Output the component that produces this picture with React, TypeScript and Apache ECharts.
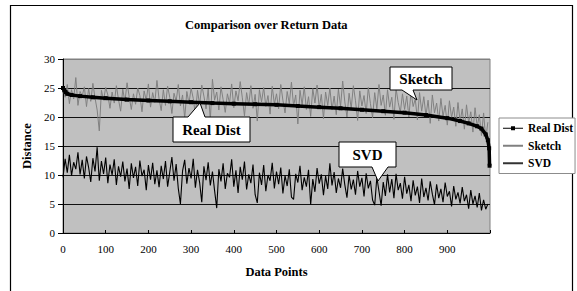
import React, { useEffect, useRef } from "react";
import * as echarts from "echarts";

const STEP = 5;
const categoriesMax = 1000;

const realX = [0, 3, 6, 10, 20, 40, 70, 100, 150, 200, 250, 300, 350, 400, 450, 500, 550, 600, 650, 700, 750, 800, 850, 900, 930, 950, 970, 980, 990, 995, 998, 999];
const realY = [25.0, 24.6, 24.3, 24.0, 23.8, 23.6, 23.4, 23.25, 23.0, 22.85, 22.7, 22.55, 22.4, 22.3, 22.2, 22.1, 21.9, 21.7, 21.5, 21.25, 21.0, 20.75, 20.35, 19.8, 19.3, 18.9, 18.4, 18.0, 17.0, 16.0, 14.6, 11.6];

const sketchValues = [
  24.9, 23.4, 25.6, 22.3, 24.7, 23.1, 26.8, 22.0, 24.4, 23.6, 25.2, 21.8, 24.9, 22.7, 25.8, 23.3, 21.2, 17.6, 24.6, 22.9,
  25.1, 23.8, 21.5, 24.3, 22.4, 25.4, 23.0, 21.0, 24.8, 22.6, 25.9, 23.5, 21.3, 24.0, 22.2, 25.0, 23.7, 20.9, 24.5, 22.8,
  25.7, 21.7, 24.2, 22.5, 26.3, 23.1, 21.1, 24.7, 22.0, 25.3, 23.4, 20.6, 24.1, 22.7, 25.6, 21.9, 23.8, 19.8, 24.4, 22.3,
  25.0, 23.2, 20.4, 24.6, 22.1, 25.5, 23.6, 21.4, 24.8, 19.5, 26.5, 22.9, 24.3, 21.2, 25.2, 23.0, 20.8, 24.0, 22.4, 25.7,
  21.6, 24.5, 22.8, 26.1, 23.3, 20.2, 24.2, 22.0, 25.4, 21.5, 23.9, 19.3, 24.7, 22.6, 25.1, 21.8, 23.7, 20.5, 25.3, 22.2,
  24.0, 21.4, 25.6, 22.9, 20.7, 24.4, 22.3, 26.0, 21.9, 23.8, 18.8, 24.6, 22.1, 25.2, 21.3, 23.5, 20.1, 24.9, 22.4, 25.5,
  21.6, 23.9, 19.7, 24.3, 22.0, 25.0, 21.2, 23.6, 20.4, 24.8, 21.8, 26.2, 22.6, 20.0, 24.1, 21.5, 25.4, 22.8, 19.4, 24.5,
  21.9, 23.7, 20.6, 25.1, 22.3, 19.9, 24.2, 21.4, 25.6, 22.0, 23.8, 20.3, 24.7, 21.7, 23.4, 19.6, 24.9, 22.5, 20.8, 24.0,
  21.3, 23.6, 20.0, 24.4, 21.8, 23.1, 19.5, 24.2, 21.0, 23.5, 20.2, 22.9, 18.9, 23.8, 20.7, 22.4, 19.3, 23.2, 20.1, 22.0,
  18.6, 22.8, 19.9, 21.7, 18.4, 22.5, 19.2, 21.4, 17.9, 22.1, 19.0, 20.9, 17.4, 21.6, 18.3, 20.4, 16.8, 20.7, 16.2, 19.1,
];

const svdValues = [
  9.6, 12.8, 10.4, 13.5, 9.9, 12.2, 11.0, 13.9, 10.1, 12.6, 9.4, 13.2, 11.3, 8.8, 12.9, 10.6, 14.8, 9.0, 12.4, 10.2,
  13.0, 8.6, 11.8, 10.0, 12.7, 8.3, 11.5, 9.7, 12.3, 8.9, 11.1, 7.6, 12.0, 9.5, 11.4, 8.1, 12.5, 9.8, 10.9, 7.4,
  11.7, 9.2, 12.1, 8.4, 10.8, 7.9, 11.6, 9.3, 12.4, 8.0, 10.5, 13.1, 9.0, 11.9, 7.7, 5.0, 10.7, 12.6, 8.5, 11.2,
  9.4, 12.8, 7.8, 10.9, 8.7, 5.3, 11.5, 9.1, 12.2, 8.2, 10.6, 7.3, 4.3, 11.0, 8.9, 12.0, 7.6, 10.3, 9.6, 12.7,
  8.0, 10.8, 6.9, 11.4, 9.2, 12.3, 7.5, 10.1, 8.6, 11.8, 6.6, 5.2, 10.4, 8.3, 11.7, 7.2, 10.0, 9.0, 12.1, 7.7,
  10.6, 8.4, 11.3, 6.8, 9.9, 8.1, 11.0, 6.2, 5.8, 10.2, 8.7, 11.6, 7.4, 9.6, 8.0, 10.9, 4.9, 9.3, 7.1, 11.2,
  8.5, 10.1, 6.5, 9.8, 7.6, 12.0, 8.2, 10.5, 6.9, 9.4, 7.8, 11.1, 8.3, 6.1, 10.0, 7.5, 9.2, 6.6, 10.7, 8.0,
  9.5, 6.3, 10.3, 7.7, 9.0, 5.7, 4.8, 9.6, 7.2, 4.7, 8.8, 6.4, 10.1, 7.0, 9.3, 6.0, 10.2, 7.4, 8.6, 5.9,
  9.7, 6.8, 8.3, 5.5, 9.1, 6.5, 8.0, 5.2, 9.4, 6.2, 7.8, 5.6, 8.9, 6.7, 4.9, 8.4, 6.0, 7.6, 5.3, 8.7,
  6.3, 7.2, 4.6, 8.1, 5.8, 7.0, 5.1, 7.9, 5.5, 6.6, 4.2, 7.4, 5.0, 6.4, 4.4, 6.9, 3.9, 5.7, 4.1, 5.0,
];

const seriesNames = ["Real Dist", "Sketch", "SVD"];
const titleText = "Comparison over Return Data";
const xTitle = "Data Points";
const yTitle = "Distance";

const SERIF = "Liberation Serif, Times New Roman, serif";

export default function App() {
  const ref = useRef<HTMLDivElement>(null);
  useEffect(() => {
    document.body.style.margin = "0";
    const chart = echarts.init(ref.current!, null, { renderer: "svg" });
    const realData = realX.map((x, i) => [x, realY[i]]);
    const sketchData = sketchValues.map((v, i) => [i * STEP, v]);
    const svdData = svdValues.map((v, i) => [i * STEP, v]);

    const bubble = (pts: number[][], label: string, cx: number, cy: number) => [
      {
        type: "polygon",
        z: 100,
        shape: { points: pts },
        style: { fill: "#fff", stroke: "#000", lineWidth: 1 },
      },
      {
        type: "text",
        z: 101,
        x: cx,
        y: cy,
        style: {
          text: label,
          fontFamily: SERIF,
          fontWeight: "bold",
          fontSize: 15,
          fill: "#000",
          align: "center",
          verticalAlign: "middle",
        },
      },
    ];

    chart.setOption({
      animation: false,
      backgroundColor: "#fff",
      title: {
        text: titleText,
        left: 185,
        top: 18,
        padding: 0,
        textStyle: { fontFamily: SERIF, fontWeight: "bold", fontSize: 12.5, color: "#000" },
      },
      grid: {
        left: 63,
        top: 59,
        width: 427,
        height: 174,
        show: true,
        backgroundColor: "#c0c0c0",
        borderColor: "#808080",
        borderWidth: 1,
      },
      xAxis: {
        type: "value",
        min: 0,
        max: categoriesMax,
        interval: 100,
        name: xTitle,
        nameLocation: "middle",
        nameGap: 32,
        nameTextStyle: { fontFamily: SERIF, fontWeight: "bold", fontSize: 12.5, color: "#000" },
        axisLine: { show: true, lineStyle: { color: "#000", width: 1 } },
        axisTick: { show: true, inside: true, length: 3, lineStyle: { color: "#000" } },
        axisLabel: {
          formatter: (v: number) => (v >= categoriesMax ? "" : String(v)),
          margin: 10,
          fontFamily: SERIF,
          fontSize: 11,
          color: "#000",
        },
        splitLine: { show: false },
      },
      yAxis: {
        type: "value",
        min: 0,
        max: 30,
        interval: 5,
        name: yTitle,
        nameLocation: "middle",
        nameGap: 28,
        nameRotate: 90,
        nameTextStyle: { fontFamily: SERIF, fontWeight: "bold", fontSize: 12.5, color: "#000" },
        axisLine: { show: true, lineStyle: { color: "#000", width: 1 } },
        axisTick: { show: true, length: 5, lineStyle: { color: "#000" } },
        axisLabel: { margin: 8, fontFamily: SERIF, fontSize: 11, color: "#000" },
        splitLine: {
          show: true,
          lineStyle: { color: ["#000", "#111", "#111", "#111", "#111", "#111", "#808080"], width: 1 },
        },
      },
      legend: {
        orient: "vertical",
        left: 499,
        top: 118,
        itemWidth: 20,
        itemHeight: 5,
        itemGap: 5,
        padding: [4, 2, 4, 3],
        backgroundColor: "#fff",
        borderColor: "#8c8c8c",
        borderWidth: 1,
        textStyle: { fontFamily: SERIF, fontWeight: "bold", fontSize: 11.5, color: "#000", lineHeight: 12.5 },
        data: [
          { name: seriesNames[0], lineStyle: { width: 1 } },
          { name: seriesNames[1], itemStyle: { opacity: 0, color: "transparent", borderWidth: 0 } },
          { name: seriesNames[2], itemStyle: { opacity: 0, color: "transparent", borderWidth: 0 }, lineStyle: { color: "#333" } },
        ],
      },
      series: [
        {
          name: seriesNames[0],
          type: "line",
          data: realData,
          z: 5,
          symbol: "rect",
          symbolSize: 4,
          showSymbol: true,
          lineStyle: { color: "#000", width: 3.5 },
          itemStyle: { color: "#000" },
        },
        {
          name: seriesNames[1],
          type: "line",
          data: sketchData,
          z: 3,
          symbol: "none",
          lineStyle: { color: "#808080", width: 1 },
          itemStyle: { color: "#808080" },
        },
        {
          name: seriesNames[2],
          type: "line",
          data: svdData,
          z: 4,
          symbol: "none",
          lineStyle: { color: "#000", width: 1.1 },
          itemStyle: { color: "#000" },
        },
      ],
      graphic: [
        {
          type: "rect",
          z: 0,
          silent: true,
          shape: { x: 10.5, y: 5.5, width: 562, height: 320 },
          style: { fill: "none", stroke: "#000", lineWidth: 1.2 },
        },
        ...bubble(
          [[173, 117], [188, 117], [200, 103], [205, 117], [250, 117], [250, 142], [173, 142]],
          seriesNames[0], 211.5, 130
        ),
        ...bubble(
          [[390, 67], [452, 67], [452, 90], [413, 90], [417, 100], [402, 90], [390, 90]],
          seriesNames[1], 421, 78.5
        ),
        ...bubble(
          [[339, 142], [396, 142], [396, 167], [388, 167], [378, 181], [372, 167], [339, 167]],
          seriesNames[2], 367.5, 154.5
        ),
      ],
    });
    return () => chart.dispose();
  }, []);
  return (
    <div
      ref={ref}
      style={{ position: "absolute", left: 0, top: 0, width: 577, height: 291 }}
    />
  );
}
